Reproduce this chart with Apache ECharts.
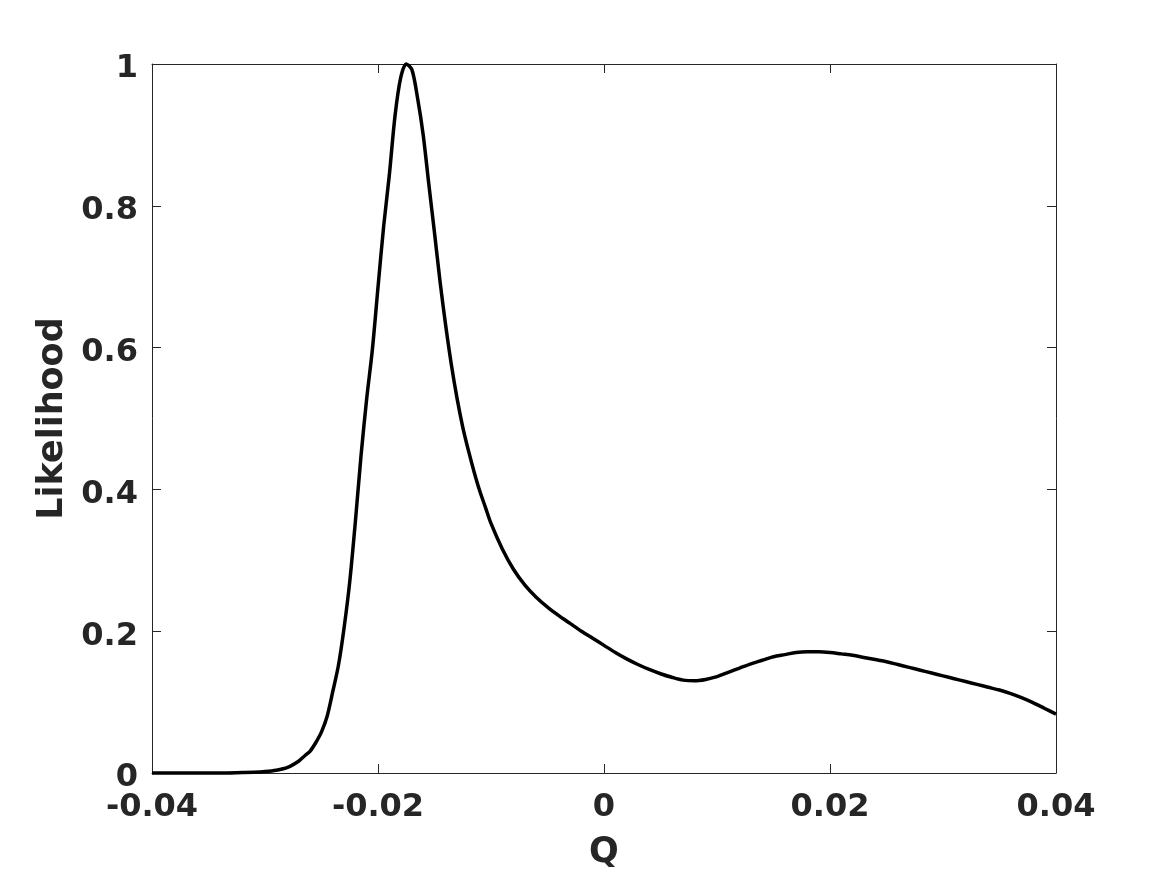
<!DOCTYPE html>
<html>
<head>
<meta charset="utf-8">
<script src="https://cdn.jsdelivr.net/npm/echarts@6/dist/echarts.min.js"></script>
<style>
html, body { margin: 0; padding: 0; background: #fff; }
#chart { width: 1167px; height: 875px; }
</style>
</head>
<body>
<div id="chart"></div>
<script>
// Q values and the likelihood at each
var qValues = [-0.040, -0.038, -0.036, -0.034, -0.032, -0.031, -0.030, -0.029, -0.028, -0.027,
    -0.0265, -0.026, -0.0255, -0.025, -0.0245, -0.024, -0.0235, -0.023, -0.0225, -0.022,
    -0.0215, -0.021, -0.0205, -0.020, -0.0195, -0.019, -0.0185, -0.018, -0.0175, -0.017,
    -0.0165, -0.016, -0.0155, -0.015, -0.0145, -0.014, -0.0135, -0.013, -0.0125, -0.012,
    -0.0115, -0.011, -0.0105, -0.010, -0.009, -0.008, -0.007, -0.006, -0.005, -0.004,
    -0.003, -0.002, -0.001, 0, 0.001, 0.002, 0.003, 0.004, 0.005, 0.006,
    0.007, 0.008, 0.009, 0.010, 0.011, 0.012, 0.013, 0.014, 0.015, 0.016,
    0.017, 0.018, 0.019, 0.020, 0.021, 0.022, 0.023, 0.024, 0.025, 0.026,
    0.027, 0.028, 0.029, 0.030, 0.031, 0.032, 0.033, 0.034, 0.035, 0.036,
    0.037, 0.038, 0.039, 0.040];
var likelihood = [0, 0, 0, 0, 0.0006, 0.001, 0.002, 0.004, 0.008, 0.017,
    0.024, 0.031, 0.043, 0.058, 0.080, 0.115, 0.152, 0.205, 0.270, 0.355,
    0.448, 0.528, 0.597, 0.685, 0.771, 0.843, 0.926, 0.980, 1.0, 0.992,
    0.952, 0.900, 0.830, 0.762, 0.692, 0.630, 0.575, 0.528, 0.488, 0.455,
    0.425, 0.398, 0.375, 0.352, 0.316, 0.287, 0.265, 0.248, 0.234, 0.222,
    0.211, 0.200, 0.190, 0.180, 0.170, 0.161, 0.153, 0.146, 0.140, 0.135,
    0.131, 0.130, 0.132, 0.136, 0.142, 0.148, 0.154, 0.159, 0.164, 0.167,
    0.170, 0.171, 0.171, 0.170, 0.168, 0.166, 0.163, 0.160, 0.157, 0.153,
    0.149, 0.145, 0.141, 0.137, 0.133, 0.129, 0.125, 0.121, 0.117, 0.112,
    0.106, 0.099, 0.091, 0.083];

var xTicks = [-0.04, 0.04, 0.02];   // min, max, step
var yTicks = [0, 1, 0.2];

var points = [];
for (var i = 0; i < qValues.length; i++) {
    points.push([qValues[i], likelihood[i]]);
}

var axisColor = '#262626';
var fontFamily = 'DejaVu Sans';

function boxAxis(pos, ticks) {
    return {
        type: 'value', position: pos,
        min: ticks[0], max: ticks[1], interval: ticks[2],
        axisLine: { show: true, onZero: false, lineStyle: { color: axisColor, width: 1 } },
        axisTick: { show: true, inside: true, length: 9, lineStyle: { color: axisColor } },
        axisLabel: { show: false },
        splitLine: { show: false }
    };
}

var myChart = echarts.init(document.getElementById('chart'));

var options = {
    backgroundColor: '#ffffff',
    animation: false,
    grid: { left: 152, right: 111, top: 64, bottom: 99 },
    xAxis: [{
        type: 'value', position: 'bottom',
        min: xTicks[0], max: xTicks[1], interval: xTicks[2],
        name: 'Q',
        nameLocation: 'middle',
        nameGap: 62,
        nameTextStyle: { fontFamily: fontFamily, fontWeight: 'bold', fontSize: 35, color: axisColor },
        axisLine: { show: true, onZero: false, lineStyle: { color: axisColor, width: 1 } },
        axisTick: { show: true, inside: true, length: 9, lineStyle: { color: axisColor } },
        axisLabel: { fontFamily: fontFamily, fontWeight: 'bold', fontSize: 32, color: axisColor, margin: 19 },
        splitLine: { show: false }
    }, boxAxis('top', xTicks)],
    yAxis: [{
        type: 'value', position: 'left',
        min: yTicks[0], max: yTicks[1], interval: yTicks[2],
        name: 'Likelihood',
        nameLocation: 'middle',
        nameGap: 80,
        nameTextStyle: { fontFamily: fontFamily, fontWeight: 'bold', fontSize: 35, color: axisColor },
        axisLine: { show: true, onZero: false, lineStyle: { color: axisColor, width: 1 } },
        axisTick: { show: true, inside: true, length: 9, lineStyle: { color: axisColor } },
        axisLabel: {
            margin: 14,
            formatter: '{t|{value}}',
            rich: {
                t: { fontFamily: fontFamily, fontWeight: 'bold', fontSize: 32, color: axisColor,
                    padding: [10, 0, 0, 0] }
            }
        },
        splitLine: { show: false }
    }, boxAxis('right', yTicks)],
    series: [{
        type: 'line',
        data: points,
        smooth: 0.3,
        showSymbol: false,
        clip: false,
        lineStyle: { color: '#000000', width: 3.5 }
    }]
};

myChart.setOption(options);
</script>
</body>
</html>
